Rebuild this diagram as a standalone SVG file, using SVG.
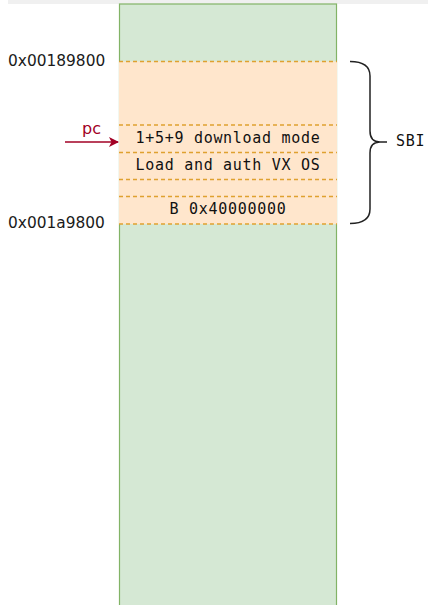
<svg xmlns="http://www.w3.org/2000/svg" width="428" height="605" viewBox="0 0 428 605">
  <style>
    .mono { font-family: "DejaVu Sans Mono", "Liberation Mono", monospace; font-size: 15px; letter-spacing: 0.7px; fill: #111; }
    .addr { font-family: "DejaVu Sans", "Liberation Sans", sans-serif; font-size: 15.4px; fill: #1a1a1a; }
    .sep { stroke: #dfa12f; stroke-width: 1.3; stroke-dasharray: 4 3; fill: none; }
  </style>
  <defs>
    <marker id="arrow" viewBox="0 0 10 10" refX="9" refY="5" markerWidth="10" markerHeight="10" markerUnits="userSpaceOnUse" orient="auto">
      <path d="M0,0 L10,5 L0,10 L2.5,5 Z" fill="#a20025"/>
    </marker>
  </defs>

  <rect x="8" y="0" width="420" height="4" fill="#f0f0f0"/>

  <!-- memory column -->
  <g id="memory">
    <rect x="119.5" y="4" width="217" height="610" fill="#d5e8d4" stroke="#82b366" stroke-width="1.2"/>
  </g>

  <!-- SBI image region -->
  <g id="sbi-region">
    <rect x="119" y="61.5" width="218" height="162.5" fill="#ffe6cc"/>
    <line class="sep" x1="119" y1="61.5" x2="337" y2="61.5"/>
    <line class="sep" x1="119" y1="125" x2="337" y2="125"/>
    <line class="sep" x1="119" y1="152.5" x2="337" y2="152.5"/>
    <line class="sep" x1="119" y1="179.5" x2="337" y2="179.5"/>
    <line class="sep" x1="119" y1="196.5" x2="337" y2="196.5"/>
    <line class="sep" x1="119" y1="224" x2="337" y2="224"/>
  </g>

  <g id="download-mode">
    <text class="mono" x="228" y="143" text-anchor="middle">1+5+9 download mode</text>
  </g>
  <g id="load-auth">
    <text class="mono" x="228" y="170" text-anchor="middle">Load and auth VX OS</text>
  </g>
  <g id="branch">
    <text class="mono" x="228" y="214" text-anchor="middle">B 0x40000000</text>
  </g>

  <g id="addr-start">
    <text class="addr" x="8" y="66">0x00189800</text>
  </g>
  <g id="addr-end">
    <text class="addr" x="8" y="228">0x001a9800</text>
  </g>

  <!-- brace and label -->
  <g id="sbi-brace">
    <path d="M350,61.5 Q370,61.5 370,76 V131 Q370,142 380,142 H387 M380,142 Q370,142 370,153 V209 Q370,223.5 350,223.5" fill="none" stroke="#222" stroke-width="1.5"/>
    <text class="mono" x="396" y="146">SBI</text>
  </g>

  <!-- connectors -->
  <g id="connectors">
    <line x1="65" y1="142" x2="118" y2="142" stroke="#a20025" stroke-width="1.5" marker-end="url(#arrow)"/>
    <text x="82" y="134" font-family="DejaVu Sans, Liberation Sans, sans-serif" font-size="16" fill="#a20025">pc</text>
  </g>
</svg>
